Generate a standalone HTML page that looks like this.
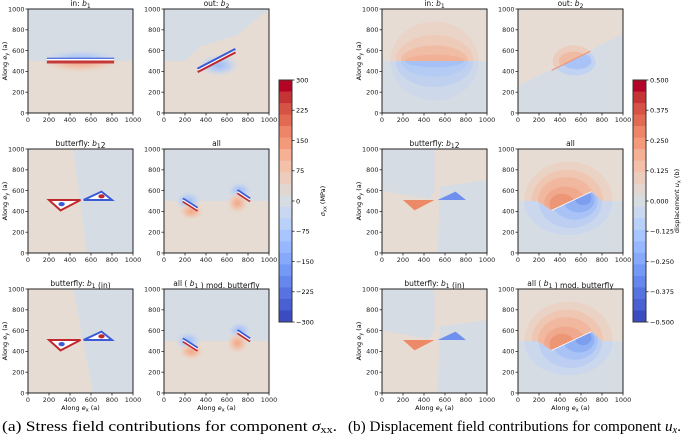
<!DOCTYPE html>
<html><head><meta charset="utf-8"><style>
body{margin:0;background:#fff}
svg{display:block}
text{font-family:"DejaVu Sans","Liberation Sans",sans-serif}
.cap{font-family:"Liberation Serif","DejaVu Serif",serif;font-size:14.5px}
</style></head><body>
<svg id="fig" width="685" height="439" viewBox="0 0 685 439" xmlns="http://www.w3.org/2000/svg">
<defs>
<radialGradient id="gR"><stop offset="0" stop-color="#f2a688"/><stop offset="0.5" stop-color="#f0c6b0"/><stop offset="1" stop-color="#e6dcd4" stop-opacity="0"/></radialGradient>
<radialGradient id="gB"><stop offset="0" stop-color="#9ebcf6"/><stop offset="0.5" stop-color="#bdd0f0"/><stop offset="1" stop-color="#d6dce4" stop-opacity="0"/></radialGradient>
</defs>
<g id="panels"></g>
<g id="cbars"></g>
<text class="cap" x="2" y="431" textLength="335" lengthAdjust="spacingAndGlyphs">(a) Stress field contributions for component <tspan font-style="italic">σ</tspan><tspan font-size="10" dy="2">xx</tspan><tspan dy="-2">.</tspan></text>
<text class="cap" x="348" y="431" textLength="333" lengthAdjust="spacingAndGlyphs">(b) Displacement field contributions for component <tspan font-style="italic">u</tspan><tspan font-size="10" dy="2" font-style="italic">x</tspan><tspan dy="-2">.</tspan></text>
</svg>
<script>
const axisTicks=[0,200,400,600,800,1000];
const stressTicks=[300,225,150,75,0,-75,-150,-225,-300];
const dispTicks=["0.500","0.375","0.250","0.125","0.000","−0.125","−0.250","−0.375","−0.500"];
const stressTitles=["in: b1","out: b2","butterfly: b12","all","butterfly: b1 (in)","all ( b1 ) mod. butterfly"];
const dispTitles=["in: b1","out: b2","butterfly: b12","all","butterfly: b1 (in)","all ( b1 ) mod. butterfly"];
const NS="http://www.w3.org/2000/svg";
const BG1="#d6dce4",BG2="#e6dcd4";
const W=105,H=104;
const colsL=[28,164],colsR=[382,518],rows=[9,149,289];
const P=document.getElementById('panels');
function el(tag,attrs,parent){const e=document.createElementNS(NS,tag);for(const k in attrs)e.setAttribute(k,attrs[k]);(parent||P).appendChild(e);return e;}
let pid=0;
function titleHTML(t){return t.replace(/b(1|2|12)/,'<tspan font-style="italic">b</tspan><tspan font-size="6" dy="2">$1</tspan><tspan dy="-2"></tspan>');}
function panel(x0,y0,title,draw,showY,showX){
  const g=el('g',{});
  
  
  const id='c'+(pid++);
  const cp=el('clipPath',{id:id},g);el('rect',{x:x0,y:y0,width:W,height:H},cp);
  const inner=el('g',{'clip-path':'url(#'+id+')'},g);
  const sx=v=>x0+v/1000*W, sy=v=>y0+H-v/1000*H;
  draw(inner,sx,sy);
  el('rect',{x:x0,y:y0,width:W,height:H,fill:'none',stroke:'#222','stroke-width':1},g);
  axisTicks.forEach(t=>{
    el('line',{x1:sx(t),x2:sx(t),y1:y0+H,y2:y0+H+2.5,stroke:'#222','stroke-width':0.8},g);
    const tx=el('text',{x:sx(t),y:y0+H+9,'font-size':6.5,'text-anchor':'middle',fill:'#222'},g);tx.textContent=t;
    el('line',{x1:x0,x2:x0-2.5,y1:sy(t),y2:sy(t),stroke:'#222','stroke-width':0.8},g);
    const ty=el('text',{x:x0-3.5,y:sy(t)+2.3,'font-size':6.5,'text-anchor':'end',fill:'#222'},g);ty.textContent=t;
  });
  const tt=el('text',{x:x0+W/2,y:y0-3,'font-size':7.5,'text-anchor':'middle',fill:'#111'},g);tt.innerHTML=titleHTML(title);
  if(showY){const yl=el('text',{x:0,y:0,'font-size':6.5,'text-anchor':'middle',transform:`translate(${x0-21},${y0+H/2}) rotate(-90)`},g);yl.innerHTML='Along <tspan font-style="italic">e</tspan><tspan font-size="5" dy="1.5">y</tspan><tspan dy="-1.5"> (a)</tspan>';}
  if(showX){const xl=el('text',{x:x0+W/2,y:y0+H+17,'font-size':6.5,'text-anchor':'middle'},g);xl.innerHTML='Along <tspan font-style="italic">e</tspan><tspan font-size="5" dy="1.5">x</tspan><tspan dy="-1.5"> (a)</tspan>';}
}
function pts(sx,sy,p){return p.map(q=>sx(q[0])+','+sy(q[1])).join(' ');}
function poly(g,sx,sy,p,a){return el('polygon',Object.assign({points:pts(sx,sy,p)},a),g);}
function clipped(g,sx,sy,p){const id='k'+(pid++);const cp=el('clipPath',{id:id},g);el('polygon',{points:pts(sx,sy,p)},cp);return el('g',{'clip-path':'url(#'+id+')'},g);}
function crack(g,sx,sy,x1,y1,x2,y2,w){
  el('line',{x1:sx(x1),y1:sy(y1)+1.5,x2:sx(x2),y2:sy(y2)+1.5,stroke:'#c0282d','stroke-width':w||2},g);
  el('line',{x1:sx(x1),y1:sy(y1)-1.5,x2:sx(x2),y2:sy(y2)-1.5,stroke:'#3b5bd6','stroke-width':w||2},g);
  el('line',{x1:sx(x1),y1:sy(y1),x2:sx(x2),y2:sy(y2),stroke:'#fff','stroke-width':1.2},g);
}
function ell(g,sx,sy,cx,cy,rx,ry,f){el('ellipse',{cx:sx(cx),cy:sy(cy),rx:rx/1000*W,ry:ry/1000*H,fill:f},g);}
const S=[
 (g,sx,sy)=>{el('rect',{x:sx(0),y:sy(1000),width:W,height:H/2,fill:BG1},g);el('rect',{x:sx(0),y:sy(500),width:W,height:H/2,fill:BG2},g);
   const t=clipped(g,sx,sy,[[0,1000],[1000,1000],[1000,500],[0,500]]);ell(t,sx,sy,500,510,400,110,'url(#gB)');
   const b=clipped(g,sx,sy,[[0,0],[1000,0],[1000,500],[0,500]]);ell(b,sx,sy,500,490,400,110,'url(#gR)');
   el('rect',{x:sx(180),y:sy(532),width:sx(820)-sx(180),height:2.5,fill:'#4a6de0'},g);el('rect',{x:sx(180),y:sy(505),width:sx(820)-sx(180),height:3,fill:'#c43a3a'},g);el('rect',{x:sx(180),y:sy(520),width:sx(820)-sx(180),height:1.5,fill:'#fff'},g);},
 (g,sx,sy)=>{el('rect',{x:sx(0),y:sy(1000),width:W,height:H,fill:BG2},g);poly(g,sx,sy,[[0,1000],[1000,1000],[700,750],[350,640],[200,500],[0,500]],{fill:BG1});
   ell(g,sx,sy,520,460,200,110,'url(#gB)');crack(g,sx,sy,320,410,680,600,2.5);},
 (g,sx,sy)=>{el('rect',{x:sx(0),y:sy(1000),width:W,height:H,fill:BG1},g);poly(g,sx,sy,[[0,0],[0,1000],[430,1000],[560,0]],{fill:BG2});
   poly(g,sx,sy,[[200,510],[500,510],[310,410]],{fill:'#fff',stroke:'#c0282d','stroke-width':2});poly(g,sx,sy,[[530,510],[800,510],[700,590]],{fill:'#fff',stroke:'#3b5bd6','stroke-width':2});
   ell(g,sx,sy,320,470,30,20,'#3b5bd6');ell(g,sx,sy,700,545,30,20,'#c0282d');},
 (g,sx,sy)=>{el('rect',{x:sx(0),y:sy(1000),width:W,height:H/2,fill:BG1},g);el('rect',{x:sx(0),y:sy(500),width:W,height:H/2,fill:BG2},g);
   ell(g,sx,sy,230,500,130,100,'url(#gB)');ell(g,sx,sy,260,400,130,90,'url(#gR)');ell(g,sx,sy,720,600,120,90,'url(#gB)');ell(g,sx,sy,700,480,110,110,'url(#gR)');
   crack(g,sx,sy,180,510,320,420);crack(g,sx,sy,700,590,820,510);},
 (g,sx,sy)=>{el('rect',{x:sx(0),y:sy(1000),width:W,height:H,fill:BG1},g);poly(g,sx,sy,[[0,0],[0,1000],[430,1000],[620,0]],{fill:BG2});
   poly(g,sx,sy,[[200,510],[500,510],[310,410]],{fill:'#fff',stroke:'#c0282d','stroke-width':2});poly(g,sx,sy,[[530,510],[800,510],[700,590]],{fill:'#fff',stroke:'#3b5bd6','stroke-width':2});
   ell(g,sx,sy,320,470,30,20,'#3b5bd6');ell(g,sx,sy,700,545,30,20,'#c0282d');},
 (g,sx,sy)=>{el('rect',{x:sx(0),y:sy(1000),width:W,height:H/2,fill:BG1},g);el('rect',{x:sx(0),y:sy(500),width:W,height:H/2,fill:BG2},g);
   ell(g,sx,sy,230,500,130,100,'url(#gB)');ell(g,sx,sy,260,400,130,90,'url(#gR)');ell(g,sx,sy,720,600,120,90,'url(#gB)');ell(g,sx,sy,700,480,110,110,'url(#gR)');
   crack(g,sx,sy,180,510,320,420);crack(g,sx,sy,700,590,820,510);}
];
const allD=(g,sx,sy)=>{
  el('rect',{x:sx(0),y:sy(1000),width:W,height:H,fill:BG1},g);
  const topP=[[0,1000],[1000,1000],[1000,500],[800,500],[700,590],[320,410],[180,500],[0,500]];
  const botP=[[0,0],[1000,0],[1000,500],[800,500],[700,590],[320,410],[180,500],[0,500]];
  const t=clipped(g,sx,sy,topP);el('rect',{x:sx(0),y:sy(1000),width:W,height:H,fill:BG2},t);
  ell(t,sx,sy,480,500,420,380,'#ead2c4');ell(t,sx,sy,470,500,340,300,'#efc6b2');ell(t,sx,sy,460,500,270,230,'#f1b89f');ell(t,sx,sy,450,480,200,160,'#f0a98c');ell(t,sx,sy,420,470,120,100,'#ec9676');
  const b=clipped(g,sx,sy,botP);
  ell(b,sx,sy,480,500,420,330,'#cbd7ec');ell(b,sx,sy,500,490,300,250,'#bccef2');ell(b,sx,sy,540,500,220,180,'#a9c3f6');ell(b,sx,sy,580,510,150,120,'#92b2f4');ell(b,sx,sy,620,530,80,70,'#7d9eee');
  el('line',{x1:sx(320),y1:sy(410),x2:sx(700),y2:sy(590),stroke:'#fff','stroke-width':0.8},g);};
const inD=(g,sx,sy)=>{el('rect',{x:sx(0),y:sy(1000),width:W,height:H/2,fill:BG2},g);el('rect',{x:sx(0),y:sy(500),width:W,height:H/2,fill:BG1},g);
  const t=clipped(g,sx,sy,[[0,1000],[1000,1000],[1000,500],[0,500]]);
  ell(t,sx,sy,500,500,420,380,'#ead4c8');ell(t,sx,sy,500,500,370,250,'#eecab8');ell(t,sx,sy,500,500,320,150,'#f0bca4');ell(t,sx,sy,500,500,280,60,'#f2b096');
  const b=clipped(g,sx,sy,[[0,0],[1000,0],[1000,500],[0,500]]);
  ell(b,sx,sy,500,500,420,380,'#cdd8ea');ell(b,sx,sy,500,500,370,250,'#c0d1f0');ell(b,sx,sy,500,500,320,150,'#b4cbf4');ell(b,sx,sy,500,500,280,60,'#a6c1f6');};
const butD=(sh)=>(g,sx,sy)=>{el('rect',{x:sx(0),y:sy(1000),width:W,height:H,fill:BG1},g);poly(g,sx,sy,[[0,0],[0,600],[450,520],[500,600],[500,1000],[1000,1000],[1000,700],[550,640],[530,0]],{fill:BG2});
   poly(g,sx,sy,[[200,510],[500,510],[310,410]],{fill:'#ec8a68'});poly(g,sx,sy,[[530,510],[800,510],[700,590]],{fill:'#6f90ee'});};
const D=[
 inD,
 (g,sx,sy)=>{el('rect',{x:sx(0),y:sy(1000),width:W,height:H,fill:BG2},g);poly(g,sx,sy,[[0,0],[0,260],[1000,760],[1000,0]],{fill:BG1});
   const t=clipped(g,sx,sy,[[0,1000],[1000,1000],[700,590],[320,410],[0,410]]);ell(t,sx,sy,530,500,200,150,'#ecccbc');ell(t,sx,sy,530,500,140,90,'#efbba3');
   const b=clipped(g,sx,sy,[[0,0],[1000,0],[1000,590],[700,590],[320,410],[0,410]]);ell(b,sx,sy,540,490,200,130,'#c2d2f2');ell(b,sx,sy,560,500,140,80,'#a9c3f6');
   el('line',{x1:sx(320),y1:sy(410),x2:sx(690),y2:sy(595),stroke:'#ee9678','stroke-width':1.2},g);},
 butD(0), allD, butD(1), allD
];
for(let i=0;i<6;i++){const r=Math.floor(i/2),c=i%2;
  panel(colsL[c],rows[r],stressTitles[i],S[i],c===0,r===2);
  panel(colsR[c],rows[r],dispTitles[i],D[i],c===0,r===2);}
const CB=document.getElementById('cbars');
const cmap=["#b40426","#c53334","#d65244","#e26952","#ee8468","#f49a7b","#f6b093","#f3c0a9","#ecccbc","#e2d6d0","#d7dce3","#c9d7f0","#b9d0f9","#a7c5fe","#97b8ff","#86a9fc","#7599f6","#6687ed","#5673e0","#4961d2","#3b4cc0"];
function cbar(x,name,ticks,label){
  const g=el('g',{},CB);
  const y0=80,h=242,w=13,n=cmap.length;
  cmap.forEach((c,i)=>el('rect',{x:x,y:y0+i*h/n,width:w,height:h/n+0.5,fill:c},g));
  el('rect',{x:x,y:y0,width:w,height:h,fill:'none',stroke:'#333','stroke-width':1},g);
  ticks.forEach((t,i)=>{const y=y0+i*h/(ticks.length-1);el('line',{x1:x+w,x2:x+w+2.5,y1:y,y2:y,stroke:'#222','stroke-width':0.8},g);
    const tx=el('text',{x:x+w+4,y:y+2.3,'font-size':6.5},g);tx.textContent=String(t).replace('-','−');});
  const l=el('text',{'font-size':6.5,'text-anchor':'middle',transform:`translate(${x+w+33},${y0+h/2}) rotate(-90)`},g);l.innerHTML=label;
}
cbar(279,'stress-colorbar',stressTicks,'<tspan font-style="italic">σ</tspan><tspan font-size="5" dy="1.5">xx</tspan><tspan dy="-1.5"> (MPa)</tspan>');
cbar(633,'displacement-colorbar',dispTicks,'displacement <tspan font-style="italic">u</tspan><tspan font-size="5" dy="1.5">x</tspan><tspan dy="-1.5"> (b)</tspan>');
</script>
</body></html>
